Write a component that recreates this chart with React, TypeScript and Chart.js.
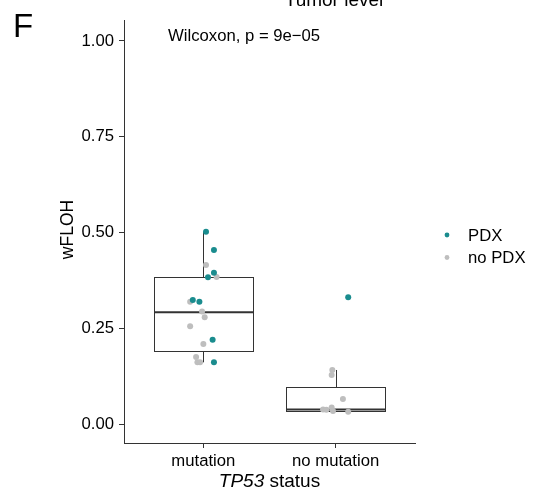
import React, { useEffect, useRef } from "react";
import { Chart, registerables } from "chart.js";

Chart.register(...registerables);

// ---- Data ----
const groups = ["mutation", "no mutation"];
const yTickValues = [0, 0.25, 0.5, 0.75, 1.0];
const yTickLabels = ["0.00", "0.25", "0.50", "0.75", "1.00"];

// Box statistics per group
const boxLower = [0.161, 0.032];
const boxQ1 = [0.19, 0.035];
const boxMedian = [0.292, 0.038];
const boxQ3 = [0.383, 0.096];
const boxUpper = [0.502, 0.141];

// Jittered points: PDX
const pdxGroup = [0, 0, 0, 0, 0, 0, 0, 0, 1];
const pdxValue = [0.502, 0.454, 0.395, 0.383, 0.324, 0.319, 0.22, 0.161, 0.331];
const pdxJitter = [0.02, 0.08, 0.08, 0.035, -0.08, -0.03, 0.07, 0.08, 0.095];

// Jittered points: no PDX
const noPdxGroup = [0, 0, 0, 0, 0, 0, 0, 0, 0, 0, 1, 1, 1, 1, 1, 1, 1, 1];
const noPdxValue = [0.415, 0.384, 0.319, 0.294, 0.279, 0.255, 0.209, 0.175, 0.161, 0.161, 0.141, 0.128, 0.065, 0.038, 0.037, 0.043, 0.034, 0.032];
const noPdxJitter = [0.02, 0.1, -0.1, -0.01, 0.01, -0.1, 0.0, -0.055, -0.045, -0.025, -0.025, -0.03, 0.055, -0.095, -0.07, -0.03, -0.02, 0.095];

const seriesLabels = ["PDX", "no PDX"];

const TEAL = "#1A8C8E";
const GREY = "#BEBEBE";
const BOX_COLOR = "#333333";
const AXIS_COLOR = "#333333";
const FONT = "'Liberation Sans', Arial, Helvetica, sans-serif";
const BOX_WIDTH = 0.75;

const makePoints = (g: number[], v: number[], j: number[]) =>
  v.map((val, i) => ({ x: g[i] + 1 + j[i], y: val }));

const boxPlugin = {
  id: "boxes",
  beforeDatasetsDraw(chart: any) {
    const { ctx } = chart;
    const x = chart.scales.x;
    const y = chart.scales.y;
    ctx.save();
    ctx.strokeStyle = BOX_COLOR;
    groups.forEach((_, i) => {
      const cx = Math.round(x.getPixelForValue(i + 1)) + 0.5;
      const l = Math.round(x.getPixelForValue(i + 1 - BOX_WIDTH / 2)) + 0.5;
      const r = Math.round(x.getPixelForValue(i + 1 + BOX_WIDTH / 2)) + 0.5;
      const yq1 = Math.round(y.getPixelForValue(boxQ1[i])) + 0.5;
      const yq3 = Math.round(y.getPixelForValue(boxQ3[i])) + 0.5;
      const ylo = y.getPixelForValue(boxLower[i]);
      const yhi = y.getPixelForValue(boxUpper[i]);
      const ymed = y.getPixelForValue(boxMedian[i]);
      ctx.lineWidth = 1;
      ctx.beginPath();
      ctx.moveTo(cx, yhi);
      ctx.lineTo(cx, yq3);
      ctx.moveTo(cx, yq1);
      ctx.lineTo(cx, ylo);
      ctx.stroke();
      ctx.fillStyle = "#ffffff";
      ctx.fillRect(l, yq3, r - l, yq1 - yq3);
      ctx.strokeRect(l, yq3, r - l, yq1 - yq3);
      ctx.lineWidth = 2;
      ctx.beginPath();
      ctx.moveTo(l, ymed);
      ctx.lineTo(r, ymed);
      ctx.stroke();
    });
    ctx.restore();
  },
};

const textPlugin = {
  id: "texts",
  afterDraw(chart: any) {
    const { ctx, chartArea } = chart;
    ctx.save();
    ctx.fillStyle = "#000000";
    ctx.textBaseline = "alphabetic";

    // Panel letter
    ctx.font = `33px ${FONT}`;
    ctx.textAlign = "left";
    ctx.fillText("F", 13, 37);

    // Cut-off title
    ctx.font = `19px ${FONT}`;
    ctx.textAlign = "center";
    ctx.fillText("Tumor level", 334, 6);

    // Test annotation
    ctx.font = `16.7px ${FONT}`;
    ctx.textAlign = "left";
    ctx.fillText("Wilcoxon, p = 9e\u221205", 168, 41);

    // Y title
    ctx.save();
    ctx.translate(72.5, (chartArea.top + chartArea.bottom) / 2 - 2);
    ctx.rotate(-Math.PI / 2);
    ctx.font = `17.5px ${FONT}`;
    ctx.textAlign = "center";
    ctx.fillText("wFLOH", 0, 0);
    ctx.restore();

    // X title with italic gene name
    const italicPart = "TP53";
    const normalPart = " status";
    ctx.font = `italic 19px ${FONT}`;
    const w1 = ctx.measureText(italicPart).width;
    ctx.font = `19px ${FONT}`;
    const w2 = ctx.measureText(normalPart).width;
    const cx = (chartArea.left + chartArea.right) / 2;
    const startX = cx - (w1 + w2) / 2;
    ctx.textAlign = "left";
    ctx.font = `italic 19px ${FONT}`;
    ctx.fillText(italicPart, startX, 487);
    ctx.font = `19px ${FONT}`;
    ctx.fillText(normalPart, startX + w1, 487);

    // Legend
    const colors = [TEAL, GREY];
    const legendY = [235, 257.5];
    ctx.font = `16.7px ${FONT}`;
    ctx.textBaseline = "middle";
    seriesLabels.forEach((lab, i) => {
      ctx.fillStyle = colors[i];
      ctx.beginPath();
      ctx.arc(447, legendY[i], 2.4, 0, Math.PI * 2);
      ctx.fill();
      ctx.fillStyle = "#000000";
      ctx.fillText(lab, 468, legendY[i] + 1);
    });
    ctx.restore();
  },
};

export default function App() {
  const canvasRef = useRef<HTMLCanvasElement | null>(null);

  useEffect(() => {
    const canvas = canvasRef.current;
    if (!canvas) return;
    const chart = new Chart(canvas, {
      type: "scatter",
      data: {
        datasets: [
          {
            label: seriesLabels[0],
            data: makePoints(pdxGroup, pdxValue, pdxJitter),
            backgroundColor: TEAL,
            borderWidth: 0,
            pointRadius: 3,
          },
          {
            label: seriesLabels[1],
            data: makePoints(noPdxGroup, noPdxValue, noPdxJitter),
            backgroundColor: GREY,
            borderWidth: 0,
            pointRadius: 3,
          },
        ],
      },
      options: {
        animation: false,
        responsive: false,
        devicePixelRatio: 1,
        layout: { padding: { top: 20, right: 120, bottom: 0, left: 0 } },
        plugins: {
          legend: { display: false },
          tooltip: { enabled: false },
          title: { display: false },
        },
        scales: {
          x: {
            type: "linear",
            min: 0.4,
            max: 2.6,
            afterBuildTicks: (s: any) => {
              s.ticks = groups.map((_, i) => ({ value: i + 1 }));
            },
            afterFit: (s: any) => {
              s.height = 52;
            },
            ticks: {
              autoSkip: false,
              maxRotation: 0,
              padding: 3,
              color: "#000000",
              font: { family: FONT, size: 16.7 },
              callback: (v: any) => groups[Number(v) - 1] ?? "",
            },
            grid: {
              drawOnChartArea: false,
              drawTicks: true,
              tickLength: 5,
              color: AXIS_COLOR,
              lineWidth: 1,
            },
            border: { display: true, color: AXIS_COLOR, width: 1 },
          },
          y: {
            type: "linear",
            min: -0.0496,
            max: 1.0548,
            afterBuildTicks: (s: any) => {
              s.ticks = yTickValues.map((v) => ({ value: v }));
            },
            afterFit: (s: any) => {
              s.width = 124;
            },
            ticks: {
              autoSkip: false,
              padding: 5,
              color: "#000000",
              font: { family: FONT, size: 16.7 },
              callback: (v: any) => {
                const idx = yTickValues.findIndex((t) => Math.abs(t - Number(v)) < 1e-9);
                return idx >= 0 ? yTickLabels[idx] : "";
              },
            },
            grid: {
              drawOnChartArea: false,
              drawTicks: true,
              tickLength: 5,
              color: AXIS_COLOR,
              lineWidth: 1,
            },
            border: { display: true, color: AXIS_COLOR, width: 1 },
          },
        },
      },
      plugins: [boxPlugin, textPlugin],
    });
    return () => chart.destroy();
  }, []);

  return (
    <div style={{ position: "absolute", left: 0, top: 0, width: 535, height: 495, background: "#ffffff" }}>
      <canvas ref={canvasRef} width={535} height={495} style={{ display: "block", width: 535, height: 495 }} />
    </div>
  );
}
